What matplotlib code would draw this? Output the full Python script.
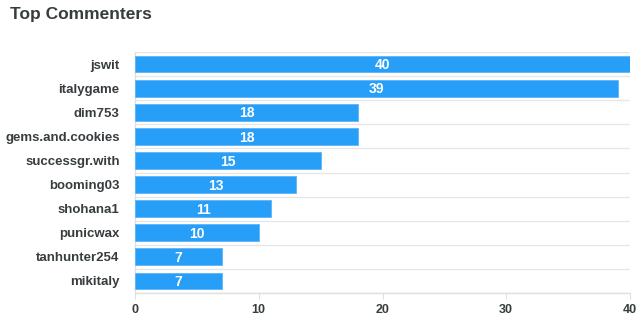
import matplotlib
matplotlib.use("Agg")
import matplotlib.pyplot as plt
import numpy as np

plt.rcParams['font.family'] = ['Liberation Sans', 'DejaVu Sans']

names = ["jswit", "italygame", "dim753", "gems.and.cookies", "successgr.with",
         "booming03", "shohana1", "punicwax", "tanhunter254", "mikitaly"]
counts = [40, 39, 18, 18, 15, 13, 11, 10, 7, 7]
xticks = [0, 10, 20, 30, 40]

fig = plt.figure(figsize=(6.4, 3.33), dpi=100)
ax = fig.add_axes([135/640, 1-293/333, 495/640, 241/333])

y = np.arange(len(names))
bars = ax.barh(y, counts, height=0.7, color='#279ef7', edgecolor='#5bb6f8', linewidth=0.6, zorder=3)
ax.set_ylim(len(names)-0.5, -0.5)
ax.set_xlim(0, 40)

for yi, v in zip(y, counts):
    ax.text(v/2, yi + 0.05, str(v), ha='center', va='center', color='white',
            fontsize=10, fontweight='bold', zorder=4)

# horizontal gridlines at category boundaries
for b in np.arange(-0.5, len(names), 1.0):
    ax.axhline(b, color='#e6e6e6', linewidth=1, zorder=1)

ax.set_yticks(y)
ax.set_yticklabels(names, fontsize=9.5, fontweight='bold', color='#373d3f')
ax.tick_params(axis='y', length=0, pad=11)
ax.set_xticks(xticks)
ax.set_xticklabels([str(t) for t in xticks], fontsize=9, fontweight='bold', color='#373d3f')
ax.tick_params(axis='x', length=4, color='#e0e0e0', pad=4)

for s in ['top', 'right']:
    ax.spines[s].set_visible(False)
ax.spines['left'].set_color('#e0e0e0')
ax.spines['bottom'].set_color('#e0e0e0')
ax.spines['left'].set_linewidth(1)
ax.spines['bottom'].set_linewidth(1)

fig.text(10/640, 1-15/333, "Top Commenters", fontsize=12.5, fontweight='bold',
         color='#373d3f', ha='left', va='center')

fig.savefig("out.png", dpi=100)
